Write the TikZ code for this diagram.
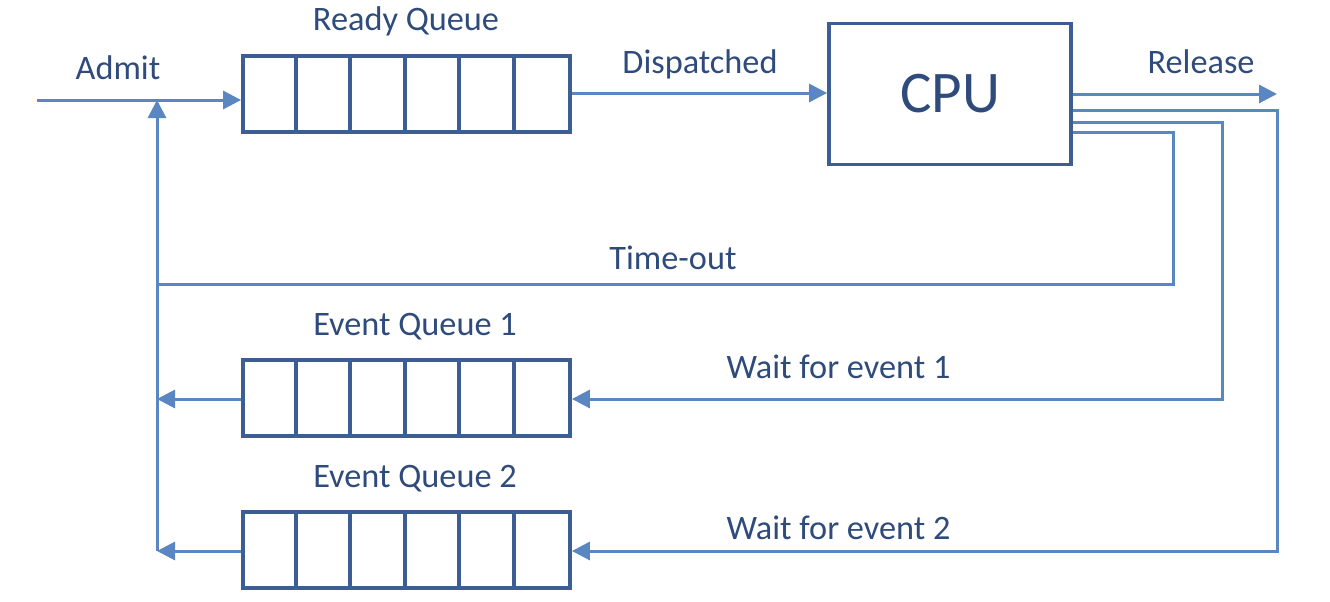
\documentclass[tikz,border=0pt]{standalone}
\usepackage{fontspec}
\setmainfont{Carlito}
\usetikzlibrary{arrows.meta}
\definecolor{ln}{HTML}{5A86C2}
\definecolor{bx}{HTML}{3D5E92}
\definecolor{tx}{HTML}{2F4B7C}
\begin{document}
\begin{tikzpicture}[x=1pt,y=-1pt,
  conn/.style={draw=ln, line width=3pt, -{Triangle[length=18pt,width=18pt]}},
  wire/.style={draw=ln, line width=3pt},
  queue/.style={draw=bx, line width=3.8pt, rectangle, minimum width=327pt, minimum height=76pt, inner sep=0pt},
  divider/.style={draw=bx, line width=3.8pt},
  lbl/.style={text=tx, font=\fontsize{34.3}{36}\selectfont, inner sep=0pt, anchor=base}]
\useasboundingbox (0,0) rectangle (1330,602);

% queues
\node[queue] (rq) at (406.5,94) {};
\node[queue] (eq1) at (406.5,398) {};
\node[queue] (eq2) at (406.5,550) {};
\foreach \q in {rq,eq1,eq2}{
  \foreach \i in {1,...,5}{
    \draw[divider] ([xshift=\i*54.5pt]\q.north west) -- ([xshift=\i*54.5pt]\q.south west);
  }
}

% CPU
\node[draw=bx, line width=3.8pt, minimum width=242pt, minimum height=141pt, inner sep=0pt,
      text=tx, font=\fontsize{59}{60}\selectfont] (cpu) at (950,94) {CPU};

% labels
\node[lbl] (lrq) at (406,31) {Ready Queue};
\node[lbl] (ladmit) at (118,79) {Admit};
\node[lbl] (ldisp) at (700,74) {Dispatched};
\node[lbl] (lrel) at (1201,74) {Release};
\node[lbl] (lto) at (673,269) {Time-out};
\node[lbl] (leq1) at (415,335) {Event Queue 1};
\node[lbl] (lw1) at (838.5,378) {Wait for event 1};
\node[lbl] (leq2) at (415,487) {Event Queue 2};
\node[lbl] (lw2) at (838.5,539) {Wait for event 2};

% coordinates
\coordinate (in) at (37,100);
\coordinate (j) at (157,100);
\coordinate (jto) at (157,284);
\coordinate (j1) at (157,399);
\coordinate (j2) at (157,551);
\coordinate (rel) at (1277,94);
\coordinate (c2) at (1277,110);
\coordinate (c3) at (1222,122);
\coordinate (c4) at (1173,132);

% admit
\draw[conn] (in) -- (in -| rq.west);
\draw[wire] (j2) -- (jto);
\draw[conn] (jto) -- (j);

% dispatched
\draw[conn] (rq.east |- 0,93) -- (cpu.west |- 0,93);

% release
\draw[conn] (cpu.east |- rel) -- (rel);

% time-out
\draw[wire] (cpu.east |- c4) -- (c4) -- (c4 |- jto) -- (jto);

% event 1
\draw[conn] (cpu.east |- c3) -- (c3) -- (c3 |- j1) -- (eq1.east |- j1);
\draw[conn] (eq1.west |- j1) -- (j1);

% event 2
\draw[conn] (cpu.east |- c2) -- (c2) -- (c2 |- j2) -- (eq2.east |- j2);
\draw[conn] (eq2.west |- j2) -- (j2);
\end{tikzpicture}
\end{document}
